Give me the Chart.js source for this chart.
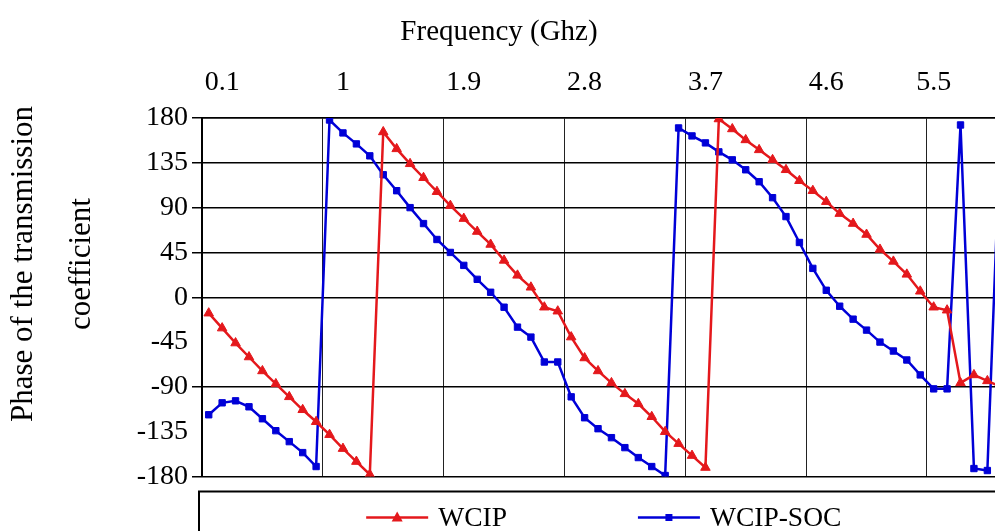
<!DOCTYPE html>
<html>
<head>
<meta charset="utf-8">
<script src="https://cdn.jsdelivr.net/npm/chart.js@4.4.1/dist/chart.umd.min.js"></script>
<style>
html, body { margin: 0; padding: 0; overflow: hidden; background: #fff; }
canvas { display: block; }
</style>
</head>
<body>
<canvas id="phaseChart" width="1014" height="531"></canvas>
<script>
// frequency (GHz) for each sample
const freqs = [0.1, 0.2, 0.3, 0.4, 0.5, 0.6, 0.7, 0.8, 0.9, 1.0,
               1.1, 1.2, 1.3, 1.4, 1.5, 1.6, 1.7, 1.8, 1.9, 2.0,
               2.1, 2.2, 2.3, 2.4, 2.5, 2.6, 2.7, 2.8, 2.9, 3.0,
               3.1, 3.2, 3.3, 3.4, 3.5, 3.6, 3.7, 3.8, 3.9, 4.0,
               4.1, 4.2, 4.3, 4.4, 4.5, 4.6, 4.7, 4.8, 4.9, 5.0,
               5.1, 5.2, 5.3, 5.4, 5.5, 5.6, 5.7, 5.8, 5.9, 6.0];

// phase of the transmission coefficient (degrees)
const wcip = [-16, -31, -46, -60, -74, -87, -100, -113, -125, -138,
              -152, -165, -178, 166, 149, 134, 120, 106, 92, 79,
              66, 53, 37, 22, 10, -10, -14, -40, -61, -74,
              -86, -97, -107, -120, -135, -147, -159, -171, 179, 169,
              158, 148, 138, 128, 117, 107, 96, 84, 74, 63,
              48, 36, 23, 6, -10, -13, -86, -78, -84, -90];

const wcipSoc = [-118, -106, -104, -110, -122, -134, -145, -156, -170, 178,
                 165, 154, 142, 123, 107, 90, 74, 58, 45, 32,
                 18, 5, -10, -30, -40, -65, -65, -100, -121, -132,
                 -141, -151, -161, -170, -179, 170, 162, 155, 146, 138,
                 128, 116, 100, 81, 55, 29, 7, -9, -22, -33,
                 -45, -54, -63, -78, -92, -92, 173, -172, -174, 178];

// top axis labels and the sample they sit on
const xTickLabels = ['0.1', '1', '1.9', '2.8', '3.7', '4.6', '5.5'];
const xTickIndex = [0, 9, 18, 27, 36, 45, 53];

const FONT = '"Liberation Serif", "Times New Roman", serif';
const RED = 'rgb(228,24,28)';
const BLUE = 'rgb(0,0,215)';
const yGridSkipped = [-45, -135];

const titles = {
  id: 'titles',
  afterDraw(chart) {
    const c = chart.ctx;
    c.save();
    c.fillStyle = '#000';
    c.textAlign = 'center';
    c.textBaseline = 'alphabetic';
    c.font = '29px ' + FONT;
    c.fillText('Frequency (Ghz)', 499, 40);
    c.font = '31px ' + FONT;
    c.translate(0, 264);
    c.rotate(-Math.PI / 2);
    c.fillText('Phase of the transmission', 0, 32);
    c.fillText('coefficient', 0, 90);
    c.restore();
  }
};

// legend drawn as in the original: line with marker, inside a framed box
const boxLegend = {
  id: 'boxLegend',
  afterDraw(chart) {
    const c = chart.ctx;
    const area = chart.chartArea;
    c.save();
    c.strokeStyle = '#000';
    c.lineWidth = 2;
    c.strokeRect(area.left - 3, area.bottom + 15, 900, 100);
    c.font = '27.5px ' + FONT;
    c.textBaseline = 'middle';
    const y = area.bottom + 41;
    const lineW = 62, gapTxt = 10, gapItem = 131;
    const ds = chart.data.datasets;
    const widths = ds.map(d => c.measureText(d.label).width);
    let total = 0;
    widths.forEach((w, i) => { total += lineW + gapTxt + w + (i ? gapItem : 0); });
    let x = (area.left + area.right) / 2 - total / 2 - 1;
    ds.forEach((d, i) => {
      c.strokeStyle = d.borderColor;
      c.fillStyle = d.borderColor;
      c.lineWidth = 2.5;
      c.beginPath();
      c.moveTo(x, y);
      c.lineTo(x + lineW, y);
      c.stroke();
      const mx = x + lineW / 2;
      if (d.pointStyle === 'triangle') {
        c.beginPath();
        c.moveTo(mx, y - 6);
        c.lineTo(mx + 5.5, y + 4);
        c.lineTo(mx - 5.5, y + 4);
        c.closePath();
        c.fill();
      } else {
        c.fillRect(mx - 3.5, y - 3.5, 7, 7);
      }
      c.fillStyle = '#000';
      c.fillText(d.label, x + lineW + gapTxt, y + 1);
      x += lineW + gapTxt + widths[i] + gapItem;
    });
    c.restore();
  }
};

new Chart(document.getElementById('phaseChart'), {
  type: 'line',
  data: {
    labels: freqs,
    datasets: [{
      label: 'WCIP',
      data: wcip,
      borderColor: RED,
      backgroundColor: RED,
      borderWidth: 2.5,
      pointStyle: 'triangle',
      pointRadius: 5.5,
      pointBorderWidth: 1,
      tension: 0
    }, {
      label: 'WCIP-SOC',
      data: wcipSoc,
      borderColor: BLUE,
      backgroundColor: BLUE,
      borderWidth: 2.5,
      pointStyle: 'rect',
      pointRadius: 4.5,
      pointBorderWidth: 1,
      tension: 0
    }]
  },
  options: {
    responsive: false,
    animation: false,
    layout: { padding: { top: 0, right: 3, bottom: 54.5, left: 0 } },
    plugins: { legend: { display: false }, tooltip: { enabled: false } },
    scales: {
      x: {
        type: 'category',
        position: 'top',
        offset: true,
        grid: {
          offset: true,
          drawTicks: true,
          tickLength: 19,
          tickColor: 'rgba(0,0,0,0)',
          lineWidth: 1,
          color: ctx => (ctx.index % 9 === 0 ? '#222' : 'rgba(0,0,0,0)')
        },
        border: { display: true, color: '#000', width: 1.5 },
        ticks: {
          autoSkip: false,
          maxRotation: 0,
          minRotation: 0,
          labelOffset: 13.42,
          padding: 0,
          color: '#000',
          font: { family: FONT, size: 28 },
          callback: (v, i) => {
            const k = xTickIndex.indexOf(i);
            return k >= 0 ? xTickLabels[k] : '';
          }
        },
        afterFit(s) { s.height = 118; }
      },
      y: {
        min: -180,
        max: 180,
        ticks: {
          stepSize: 45,
          padding: 4,
          color: '#000',
          font: { family: FONT, size: 28 }
        },
        grid: {
          lineWidth: 1.5,
          tickLength: 10,
          color: ctx => (yGridSkipped.includes(ctx.tick.value) ? 'rgba(0,0,0,0)' : '#000'),
          tickColor: ctx => (yGridSkipped.includes(ctx.tick.value) ? 'rgba(0,0,0,0)' : '#000')
        },
        border: { color: '#000', width: 2 },
        afterFit(s) { s.width = 202; }
      }
    }
  },
  plugins: [titles, boxLegend]
});
</script>
</body>
</html>
